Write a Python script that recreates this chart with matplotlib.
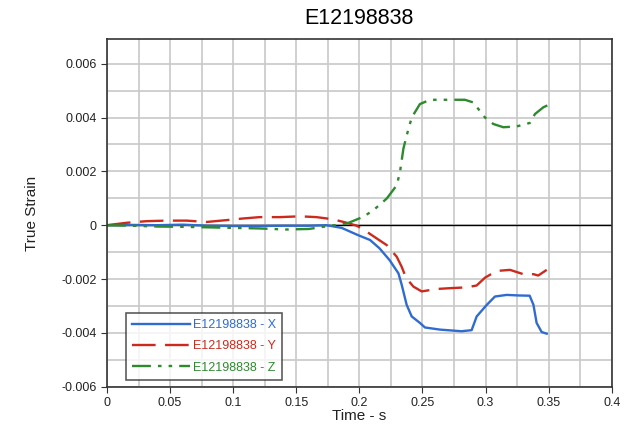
import numpy as np
import matplotlib.pyplot as plt
from matplotlib.ticker import MultipleLocator

plt.rcParams['font.family'] = ['Liberation Sans', 'DejaVu Sans']

# time (s) and strain values
t_x = [0.0, 0.02, 0.04, 0.06, 0.08, 0.10, 0.12, 0.14, 0.16, 0.174, 0.186, 0.199, 0.2085, 0.216,
       0.224, 0.231, 0.2335, 0.2375, 0.2415, 0.248, 0.252, 0.264, 0.281, 0.289, 0.293,
       0.301, 0.3075, 0.3168, 0.326, 0.335, 0.338, 0.3405, 0.3445, 0.3485]
e_x = [0.0, 0.00001, 0.0, 0.00002, -0.00002, -0.00003, -0.00003, -0.00002, -0.00002, 0.0,
       -0.0001, -0.00037, -0.00055, -0.00086, -0.0013, -0.00179, -0.0022, -0.00296,
       -0.00339, -0.00363, -0.0038, -0.00388, -0.00394, -0.0039, -0.00339, -0.00296,
       -0.00265, -0.00259, -0.00261, -0.00262, -0.00296, -0.00363, -0.00397, -0.00403]

t_y = [0.0, 0.0156, 0.0315, 0.047, 0.063, 0.079, 0.095, 0.108, 0.121, 0.137, 0.153, 0.166,
       0.179, 0.19, 0.198, 0.2045, 0.2137, 0.2217, 0.2296, 0.2335, 0.237, 0.2428, 0.2494,
       0.2613, 0.2718, 0.285, 0.293, 0.2996, 0.3088, 0.3194, 0.33, 0.338, 0.3418, 0.3485]
e_y = [0.0, 0.00009, 0.00015, 0.00017, 0.00017, 0.00012, 0.00019, 0.00025, 0.0003, 0.0003,
       0.00033, 0.0003, 0.00022, 0.00009, -0.00002, -0.0002, -0.00049, -0.00074, -0.00117,
       -0.00154, -0.00195, -0.00228, -0.00246, -0.00237, -0.00234, -0.00231, -0.00224,
       -0.00195, -0.0017, -0.00166, -0.00182, -0.00182, -0.00187, -0.00166]

t_z = [0.0, 0.02, 0.04, 0.06, 0.08, 0.10, 0.12, 0.142, 0.16, 0.177, 0.19, 0.203, 0.211,
       0.2217, 0.2296, 0.2322, 0.2349, 0.2375, 0.2415, 0.248, 0.256, 0.2692, 0.2837,
       0.2903, 0.2996, 0.3062, 0.3141, 0.3247, 0.3352, 0.3392, 0.3458, 0.349]
e_z = [0.0, -0.00002, -0.00005, -0.00006, -0.00008, -0.0001, -0.00012, -0.00016, -0.00014,
       -0.00002, 0.00006, 0.00031, 0.00055, 0.00099, 0.00148, 0.00197, 0.00284, 0.00333,
       0.004, 0.0045, 0.00466, 0.00466, 0.00466, 0.00456, 0.004, 0.00376, 0.00364,
       0.00367, 0.0038, 0.00413, 0.00438, 0.00445]

fig = plt.figure(figsize=(6.25, 4.32), dpi=100)
ax = fig.add_axes([0.1712, 0.1049, 0.8075, 0.8037])

ax.plot(t_x, e_x, color='#2f6bd0', lw=1.7, label='E12198838 - X')
ax.plot(t_y, e_y, color='#cc2a1c', lw=1.7, dashes=(10, 4), label='E12198838 - Y')
ax.plot(t_z, e_z, color='#2d8a2d', lw=1.7, dashes=(8, 3, 1.5, 3, 1.5, 3), label='E12198838 - Z')
ax.axhline(0, color='black', lw=1.0, zorder=1.5)

ax.set_xlim(0, 0.4)
ax.set_ylim(-0.006, 0.0069)
ax.xaxis.set_major_locator(MultipleLocator(0.05))
ax.xaxis.set_minor_locator(MultipleLocator(0.025))
ax.yaxis.set_major_locator(MultipleLocator(0.002))
ax.yaxis.set_minor_locator(MultipleLocator(0.001))
ax.grid(which='both', color='#c8c8c8', lw=1.2)
ax.set_axisbelow(True)
ax.tick_params(which='minor', length=0)
ax.tick_params(which='major', labelsize=9, length=4, color='#333333', labelcolor='#222222')

xt = [0, 0.05, 0.1, 0.15, 0.2, 0.25, 0.3, 0.35, 0.4]
ax.set_xticks(xt)
ax.set_xticklabels(['0', '0.05', '0.1', '0.15', '0.2', '0.25', '0.3', '0.35', '0.4'])
yt = [-0.006, -0.004, -0.002, 0, 0.002, 0.004, 0.006]
ax.set_yticks(yt)
ax.set_yticklabels(['-0.006', '-0.004', '-0.002', '0', '0.002', '0.004', '0.006'])

for s in ax.spines.values():
    s.set_color('#333333')
    s.set_linewidth(1.2)

ax.set_xlabel('Time - s', fontsize=11, labelpad=0, color='#222222')
ax.set_ylabel('True Strain', fontsize=11, labelpad=16, color='#222222')
ax.set_title('E12198838', fontsize=15.5, pad=11)

leg = ax.legend(loc='lower left', bbox_to_anchor=(0.038, 0.019), borderaxespad=0,
                fontsize=9, frameon=True, fancybox=False, edgecolor='#333333',
                handlelength=4.6, borderpad=0.5, labelspacing=0.75, handletextpad=0.25)
leg.get_frame().set_linewidth(1.2)
for txt, c in zip(leg.get_texts(), ['#2f6bd0', '#cc2a1c', '#2d8a2d']):
    txt.set_color(c)

fig.savefig('out.png', dpi=100)
